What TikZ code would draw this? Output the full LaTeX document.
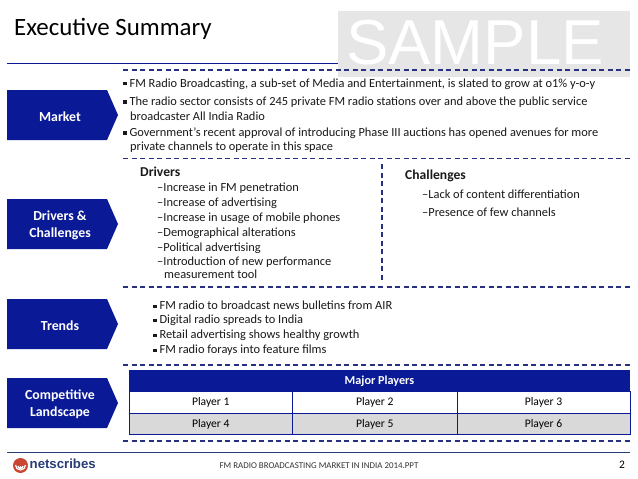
\documentclass[tikz,border=0pt]{standalone}
\usepackage{fontspec}
\setmainfont{Carlito}
\newfontfamily\arialfont{Liberation Sans}
\usepackage{tikz}
\definecolor{boxblue}{RGB}{10,26,150}
\definecolor{dashblue}{RGB}{40,48,130}
\definecolor{rowgray}{RGB}{217,217,217}
\definecolor{samplegray}{RGB}{230,230,230}
\definecolor{logored}{RGB}{200,70,50}
\definecolor{logoblue}{RGB}{40,60,120}
\newcommand{\bodysize}{\fontsize{12.4}{14}\selectfont}
\newcommand{\headsize}{\fontsize{13.6}{16}\selectfont}
\newcommand{\sqbul}{\rule[1.8pt]{3.4pt}{3.4pt}\hspace{3pt}}

\begin{document}
\begin{tikzpicture}[x=1pt,y=-1pt]
	\tikzset{sidebox/.style={text=white,font=\fontsize{13.8}{17}\selectfont\bfseries,align=center}}
	\tikzset{bodyline/.style={anchor=west,inner sep=0pt,font=\bodysize,text=black!90}}
	\tikzset{sepline/.style={dashblue,dashed,line width=1.1pt,dash pattern=on 5pt off 3.5pt}}
	\tikzset{playercell/.style={draw=boxblue,line width=.8pt,minimum height=21.5pt,inner sep=0pt,font=\fontsize{11.6}{13}\selectfont}}
	\useasboundingbox (0,0) rectangle (638,479);
	\fill[white] (0,0) rectangle (638,479);
	% title and sample stamp
	\node[anchor=west,inner sep=0pt,font=\fontsize{24.9}{28}\selectfont] (title) at (14,29) {Executive Summary};
	\draw[boxblue,line width=.9pt] (7,63) -- (338,63);
	\fill[samplegray] (338,11) rectangle (630,77);
	\node[anchor=west,inner sep=0pt,text=white,font=\arialfont\fontsize{63.5}{64}\selectfont] (stamp) at (346,43) {SAMPLE};
	% side boxes
	\foreach \name/\ytop/\txt in {market/90/Market,drivers/199/{Drivers \&\\Challenges},trends/299/Trends,landscape/378/{Competitive\\Landscape}} {
		\fill[boxblue] (7,\ytop) -- (107,\ytop) -- (118,\ytop+25) -- (107,\ytop+50) -- (7,\ytop+50) -- cycle;
		\node[sidebox] (\name) at (60,\ytop+26.5) {\txt};
	}
	% separators
	\foreach \y in {70,158.5,287,365,441} {
		\draw[sepline] (123,\y) -- (630,\y);
	}
	\draw[sepline] (382,164) -- (382,282);
	% market text
	\foreach \y/\txt in {84/{\sqbul FM Radio Broadcasting, a sub-set of Media and Entertainment, is slated to grow at o1\% y-o-y},
		102/{\sqbul The radio sector consists of 245 private FM radio stations over and above the public service},
		133/{\sqbul Government’s recent approval of introducing Phase III auctions has opened avenues for more}} {
		\node[bodyline] at (123,\y) {\txt};
	}
	\node[bodyline] (marketb) at (130,116) {broadcaster All India Radio};
	\node[bodyline] (marketc) at (130,147) {private channels to operate in this space};
	% drivers and challenges
	\node[bodyline,font=\headsize\bfseries] (driverhead) at (140,172) {Drivers};
	\foreach \y/\txt in {188/Increase in FM penetration,203/Increase of advertising,218/Increase in usage of mobile phones,
		233/Demographical alterations,248/Political advertising,262/Introduction of new performance} {
		\node[bodyline] at (157,\y) {–\txt};
	}
	\node[bodyline] (driverend) at (164,274) {measurement tool};
	\node[bodyline,font=\headsize\bfseries] (challengehead) at (405,176) {Challenges};
	\node[bodyline] (challengea) at (422,194) {–Lack of content differentiation};
	\node[bodyline] (challengeb) at (422,212) {–Presence of few channels};
	% trends
	\foreach \y/\txt in {305.5/FM radio to broadcast news bulletins from AIR,320.5/Digital radio spreads to India,
		335.5/Retail advertising shows healthy growth,350.5/FM radio forays into feature films} {
		\node[bodyline] at (153,\y) {\sqbul\txt};
	}
	% players table
	\node[fill=boxblue,text=white,minimum width=501pt,minimum height=22pt,inner sep=0pt,font=\fontsize{12.2}{14}\selectfont\bfseries] (majorhead) at (379.5,381) {Major Players};
	\foreach \n/\x/\y/\w in {1/210.75/402.5/163.5,2/374.75/402.5/164.5,3/543.5/402.5/173,4/210.75/424/163.5,5/374.75/424/164.5,6/543.5/424/173} {
		\ifnum\n>3
			\node[playercell,fill=rowgray,minimum width=\w pt] (player\n) at (\x,\y) {Player \n};
		\else
			\node[playercell,minimum width=\w pt] (player\n) at (\x,\y) {Player \n};
		\fi
	}
	% footer
	\draw[logoblue,line width=1pt] (7,452) -- (630,452);
	\fill[logored] (20.5,465.5) circle (7.5);
	\draw[white,line width=1.2pt] (15.5,465) arc (180:0:5);
	\draw[white,line width=1.2pt] (18,466) arc (180:0:2.5);
	\fill[white] (20.5,467.5) circle (1.3);
	\node[anchor=west,inner sep=0pt,text=logoblue,font=\arialfont\bfseries\fontsize{13.2}{14}\selectfont] (logo) at (29.5,464) {netscribes};
	\node[inner sep=0pt,font=\fontsize{8.9}{10}\selectfont,text=black!80] (footer) at (319,466) {FM RADIO BROADCASTING MARKET IN INDIA 2014.PPT};
	\node[inner sep=0pt,font=\fontsize{11.5}{12}\selectfont] (pagenum) at (622,465) {2};
\end{tikzpicture}
\end{document}
